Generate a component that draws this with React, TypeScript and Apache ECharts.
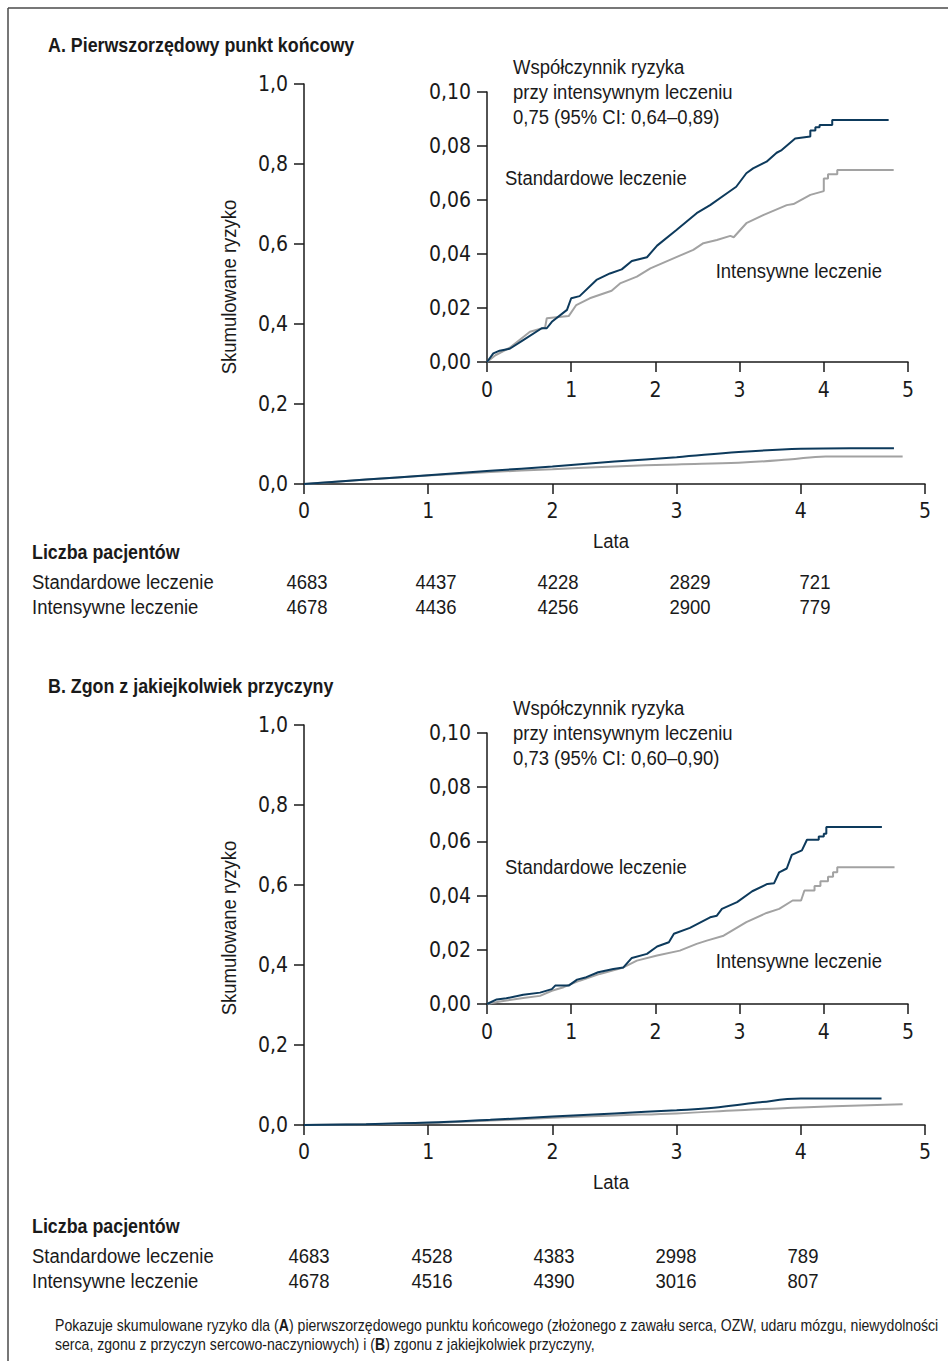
import React, { useEffect, useRef } from "react";
import * as echarts from "echarts";

// ---------- DATA ----------
const YEAR_COLUMNS = [0, 1, 2, 3, 4];

// Panel A – main chart (smoothed curves)
const A_MAIN_STD: [number, number][] = [
  [0, 0], [0.5, 0.011], [1, 0.022], [1.5, 0.033], [2, 0.044], [2.5, 0.056], [3, 0.067],
  [3.5, 0.08], [4, 0.088], [4.4, 0.0895], [4.75, 0.0895],
];
const A_MAIN_INT: [number, number][] = [
  [0, 0], [0.5, 0.011], [1, 0.021], [1.5, 0.03], [2, 0.037], [2.5, 0.044], [3, 0.049],
  [3.5, 0.053], [3.9, 0.061], [4.2, 0.069], [4.82, 0.069],
];
// Panel A – inset (Kaplan–Meier style)
const A_INSET_STD: [number, number][] = [
  [0, 0], [0.075, 0.0032], [0.15, 0.0042], [0.27, 0.0049], [0.43, 0.0081], [0.65, 0.0125],
  [0.71, 0.0125], [0.77, 0.0149], [0.95, 0.0193], [1.0, 0.0236], [1.1, 0.0244], [1.3, 0.0304],
  [1.46, 0.0328], [1.6, 0.0343], [1.72, 0.0374], [1.9, 0.0388], [2.02, 0.0431], [2.25, 0.0489],
  [2.49, 0.0551], [2.65, 0.0581], [2.85, 0.0625], [2.96, 0.0649], [3.08, 0.0699], [3.16, 0.0717],
  [3.32, 0.0742], [3.44, 0.0775], [3.5, 0.0785], [3.66, 0.0828], [3.84, 0.0835], [3.84, 0.0857],
  [3.9, 0.0857], [3.9, 0.0869], [3.95, 0.0869], [3.95, 0.0878], [4.1, 0.0878], [4.1, 0.0896],
  [4.77, 0.0896],
];
const A_INSET_INT: [number, number][] = [
  [0, 0], [0.1, 0.0025], [0.27, 0.0053], [0.51, 0.0112], [0.69, 0.0128], [0.71, 0.0162],
  [0.97, 0.017], [1.06, 0.0211], [1.22, 0.0236], [1.48, 0.0264], [1.58, 0.0291], [1.78, 0.0316],
  [1.94, 0.0347], [2.29, 0.0394], [2.45, 0.0415], [2.57, 0.044], [2.73, 0.0452], [2.89, 0.0467],
  [2.93, 0.0462], [3.08, 0.0514], [3.28, 0.0544], [3.56, 0.0581], [3.64, 0.0585], [3.84, 0.0619],
  [4.0, 0.0633], [4.0, 0.068], [4.05, 0.068], [4.05, 0.0695], [4.16, 0.0695], [4.16, 0.0711],
  [4.83, 0.0711],
];

// Panel B – main chart
const B_MAIN_STD: [number, number][] = [
  [0, 0], [0.5, 0.002], [1, 0.006], [1.5, 0.013], [2, 0.021], [2.5, 0.029], [3, 0.037],
  [3.3, 0.043], [3.65, 0.056], [4.0, 0.066], [4.65, 0.066],
];
const B_MAIN_INT: [number, number][] = [
  [0, 0], [0.5, 0.002], [1, 0.005], [1.5, 0.011], [2, 0.018], [2.5, 0.024], [3, 0.029],
  [3.5, 0.037], [4, 0.044], [4.82, 0.052],
];
// Panel B – inset
const B_INSET_STD: [number, number][] = [
  [0, 0], [0.115, 0.0017], [0.23, 0.0021], [0.43, 0.0034], [0.63, 0.0042], [0.77, 0.0055],
  [0.81, 0.0068], [0.97, 0.0068], [1.07, 0.009], [1.18, 0.0099], [1.32, 0.0117], [1.5, 0.0129],
  [1.62, 0.0135], [1.72, 0.017], [1.9, 0.0185], [2.02, 0.0212], [2.16, 0.0228], [2.22, 0.0259],
  [2.41, 0.0281], [2.65, 0.032], [2.73, 0.0326], [2.79, 0.0351], [2.97, 0.0376], [3.15, 0.0416],
  [3.33, 0.0443], [3.41, 0.0446], [3.47, 0.0486], [3.56, 0.05], [3.62, 0.055], [3.74, 0.0567],
  [3.8, 0.0606], [3.94, 0.0606], [3.94, 0.0618], [4.0, 0.0618], [4.0, 0.0628], [4.03, 0.0628],
  [4.03, 0.0653], [4.69, 0.0653],
];
const B_INSET_INT: [number, number][] = [
  [0, 0], [0.155, 0.0009], [0.43, 0.0022], [0.63, 0.003], [0.77, 0.0049], [0.91, 0.0062],
  [1.1, 0.0086], [1.34, 0.0111], [1.62, 0.0135], [1.78, 0.016], [2.02, 0.0179], [2.29, 0.0197],
  [2.49, 0.0222], [2.61, 0.0234], [2.81, 0.0252], [3.08, 0.0302], [3.32, 0.0336], [3.47, 0.0351],
  [3.63, 0.0382], [3.73, 0.0382], [3.77, 0.0419], [3.89, 0.0419], [3.89, 0.0435], [3.96, 0.0435],
  [3.96, 0.0453], [4.05, 0.0453], [4.05, 0.047], [4.11, 0.047], [4.11, 0.0486], [4.16, 0.0486],
  [4.16, 0.0505], [4.84, 0.0505],
];

// Risk tables
const A_AT_RISK_STD = [4683, 4437, 4228, 2829, 721];
const A_AT_RISK_INT = [4678, 4436, 4256, 2900, 779];
const B_AT_RISK_STD = [4683, 4528, 4383, 2998, 789];
const B_AT_RISK_INT = [4678, 4516, 4390, 3016, 807];

const TITLE_A = "A. Pierwszorzędowy punkt końcowy";
const TITLE_B = "B. Zgon z jakiejkolwiek przyczyny";
const HR_A = ["Współczynnik ryzyka", "przy intensywnym leczeniu", "0,75 (95% CI: 0,64–0,89)"];
const HR_B = ["Współczynnik ryzyka", "przy intensywnym leczeniu", "0,73 (95% CI: 0,60–0,90)"];
const LABEL_STD = "Standardowe leczenie";
const LABEL_INT = "Intensywne leczenie";
const Y_TITLE = "Skumulowane ryzyko";
const X_TITLE = "Lata";
const TABLE_TITLE = "Liczba pacjentów";
const CAPTION_1 =
  "Pokazuje skumulowane ryzyko dla ({b|A}) pierwszorzędowego punktu końcowego (złożonego z zawału serca, OZW, udaru mózgu, niewydolności";
const CAPTION_2 = "serca, zgonu z przyczyn sercowo-naczyniowych) i ({b|B}) zgonu z jakiejkolwiek przyczyny,";

// ---------- STYLE ----------
const FONT = "'Liberation Sans', Arial, Helvetica, sans-serif";
const AXIS_FONT = "'DejaVu Sans Condensed', 'Liberation Sans', sans-serif";
const INK = "#1a1a1a";
const BLUE = "#0d3a5c";
const GREY = "#a2a2a2";
const SX = 0.88; // horizontal condensation for regular text
const SXB = 0.85; // for bold text

const fmt = (d: number) => (v: number) => v.toFixed(d).replace(".", ",");

function xAx(gridIndex: number, margin: number) {
  return {
    type: "value",
    gridIndex,
    min: 0,
    max: 5,
    interval: 1,
    axisLine: { show: true, onZero: false, lineStyle: { color: INK, width: 1.5 } },
    axisTick: { show: true, length: 10, lineStyle: { color: INK, width: 1.5 } },
    axisLabel: { margin, fontSize: 21, fontFamily: AXIS_FONT, color: INK, formatter: (v: number) => String(v) },
    splitLine: { show: false },
  };
}
function yAx(gridIndex: number, max: number, interval: number, dec: number) {
  return {
    type: "value",
    gridIndex,
    min: 0,
    max,
    interval,
    axisLine: { show: true, onZero: false, lineStyle: { color: INK, width: 1.5 } },
    axisTick: { show: true, length: 10, lineStyle: { color: INK, width: 1.5 } },
    axisLabel: { margin: 16, fontSize: 21, fontFamily: AXIS_FONT, color: INK, formatter: fmt(dec) },
    splitLine: { show: false },
  };
}
function line(idx: number, data: [number, number][], color: string, smooth: boolean) {
  return {
    type: "line",
    xAxisIndex: idx,
    yAxisIndex: idx,
    data,
    showSymbol: false,
    symbol: "none",
    smooth: smooth ? 0.4 : false,
    lineStyle: { color, width: 2 },
    silent: true,
  };
}
function txt(text: string, x: number, y: number, size: number, opts: any = {}) {
  return {
    type: "text",
    x,
    y,
    rotation: opts.rotation || 0,
    scaleX: opts.sx || (opts.bold ? SXB : SX),
    silent: true,
    style: {
      text,
      fontSize: size,
      fontFamily: FONT,
      fontWeight: opts.bold ? "bold" : "normal",
      fill: INK,
      textAlign: opts.align || "left",
      textVerticalAlign: "middle",
      rich: opts.rich,
    },
  };
}

const COL_X_A = [307, 436, 558, 690, 815];
const COL_X_B = [309, 432, 554, 676, 803];

function panelTexts(
  dy: number,
  title: string,
  hr: string[],
  stdY: number,
  intY: number,
  riskStd: number[],
  riskInt: number[],
  colX: number[],
  tableTop: number
) {
  const els: any[] = [];
  els.push(txt(title, 48, 44 + dy, 21, { bold: true }));
  hr.forEach((l, i) => els.push(txt(l, 513, 67 + dy + i * 25, 21)));
  els.push(txt(LABEL_STD, 505, stdY, 21));
  els.push(txt(LABEL_INT, 882, intY, 21, { align: "right" }));
  els.push(txt(Y_TITLE, 229, 287 + dy, 21, { align: "center", rotation: Math.PI / 2 }));
  els.push(txt(X_TITLE, 611, 541 + dy, 21, { align: "center" }));
  els.push(txt(TABLE_TITLE, 32, tableTop, 21, { bold: true }));
  els.push(txt(LABEL_STD, 32, tableTop + 31, 21));
  els.push(txt(LABEL_INT, 32, tableTop + 56, 21));
  YEAR_COLUMNS.forEach((c, i) => {
    els.push(txt(String(riskStd[i]), colX[c], tableTop + 31, 21, { align: "center" }));
    els.push(txt(String(riskInt[i]), colX[c], tableTop + 56, 21, { align: "center" }));
  });
  return els;
}

const RICH = { b: { fontWeight: "bold", fontSize: 16, fontFamily: FONT, fill: INK } };

export default function App() {
  const ref = useRef<HTMLDivElement>(null);
  useEffect(() => {
    if (!ref.current) return;
    const chart = echarts.init(ref.current, undefined, { renderer: "svg" });
    const DY = 641;
    const graphic: any[] = [
      { type: "line", silent: true, shape: { x1: 8, y1: 8, x2: 948, y2: 8 }, style: { stroke: "#4a4a4a", lineWidth: 1.5 } },
      { type: "line", silent: true, shape: { x1: 8, y1: 8, x2: 8, y2: 1361 }, style: { stroke: "#4a4a4a", lineWidth: 1.5 } },
      ...panelTexts(0, TITLE_A, HR_A, 178, 271, A_AT_RISK_STD, A_AT_RISK_INT, COL_X_A, 551),
      ...panelTexts(DY, TITLE_B, HR_B, 867, 961, B_AT_RISK_STD, B_AT_RISK_INT, COL_X_B, 1225),
      txt(CAPTION_1, 55, 1325, 16, { sx: 0.88, rich: RICH }),
      txt(CAPTION_2, 55, 1344, 16, { sx: 0.88, rich: RICH }),
    ];

    chart.setOption({
      animation: false,
      backgroundColor: "#ffffff",
      grid: [
        { left: 304, top: 84, width: 621, height: 400 },
        { left: 487, top: 92, width: 421, height: 270 },
        { left: 304, top: 725, width: 621, height: 400 },
        { left: 487, top: 733, width: 421, height: 271 },
      ],
      xAxis: [xAx(0, 16), xAx(1, 17), xAx(2, 16), xAx(3, 17)],
      yAxis: [yAx(0, 1, 0.2, 1), yAx(1, 0.1, 0.02, 2), yAx(2, 1, 0.2, 1), yAx(3, 0.1, 0.02, 2)],
      series: [
        line(0, A_MAIN_INT, GREY, true),
        line(0, A_MAIN_STD, BLUE, true),
        line(1, A_INSET_INT, GREY, false),
        line(1, A_INSET_STD, BLUE, false),
        line(2, B_MAIN_INT, GREY, true),
        line(2, B_MAIN_STD, BLUE, true),
        line(3, B_INSET_INT, GREY, false),
        line(3, B_INSET_STD, BLUE, false),
      ],
      graphic,
    });
    return () => chart.dispose();
  }, []);
  return (
    <div
      ref={ref}
      style={{ position: "absolute", left: 0, top: 0, width: 948, height: 1361, background: "#fff" }}
    />
  );
}
